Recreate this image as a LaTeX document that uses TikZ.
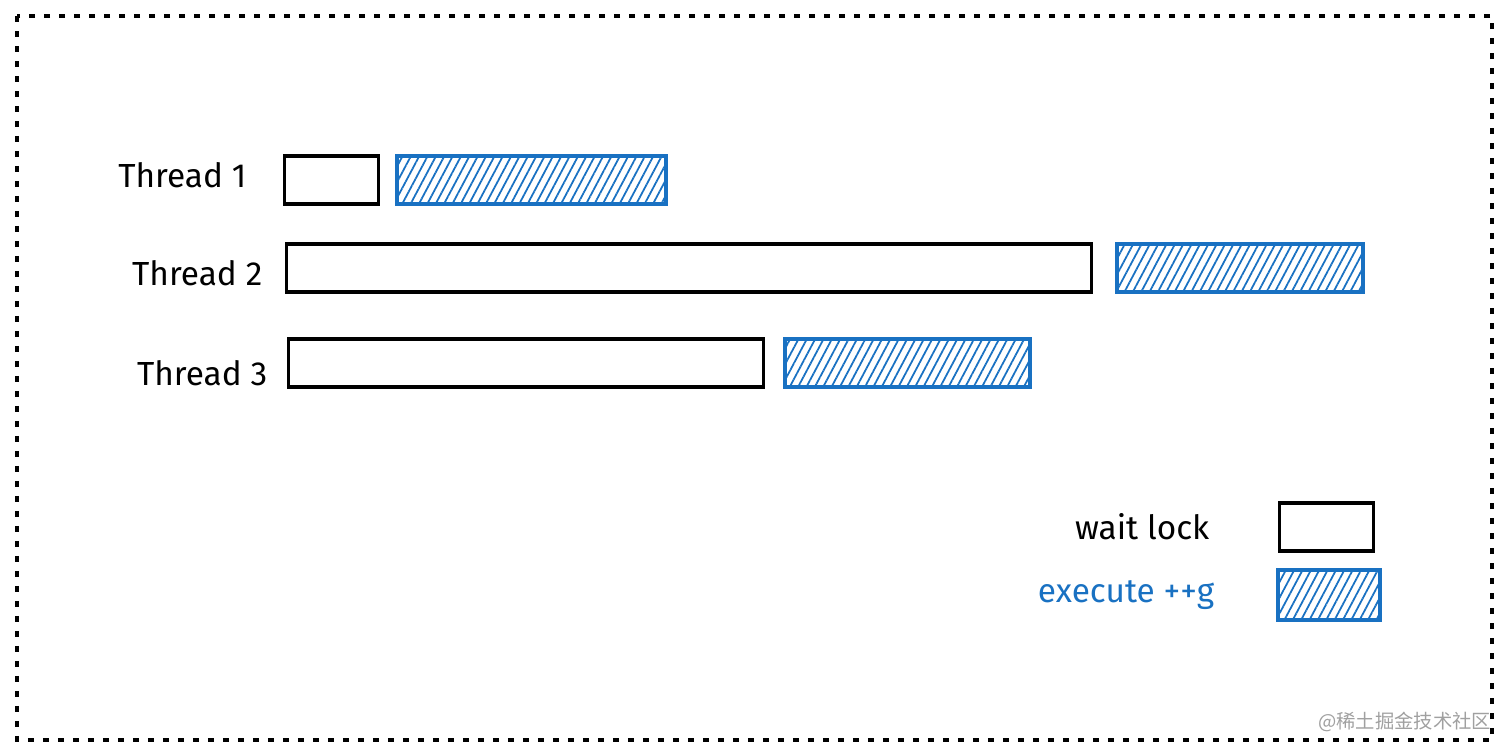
\documentclass[tikz,border=0pt]{standalone}
\usepackage{fontspec}
\setmainfont{Fira Sans}
\newfontfamily\cjkfont{Noto Sans CJK SC}
\usetikzlibrary{
positioning,
patterns.meta
}
\definecolor{LockBlue}{HTML}{1971C2}
\definecolor{MarkGray}{HTML}{A0A0A0}
\tikzset{
waitbar/.style={draw=black, line width=0.9pt, minimum height=4.8mm, inner sep=0pt},
execbar/.style={draw=LockBlue, line width=1.1pt, minimum height=4.8mm, inner sep=0pt,
  pattern={Lines[angle=62,distance=2.1pt,line width=0.5pt]}, pattern color=LockBlue},
threadlabel/.style={font=\fontsize{9.5}{11}\selectfont, inner sep=0pt},
framebox/.style={line width=0.9pt, dash pattern=on 0.06cm off 0.09cm}
}

\begin{document}
\begin{tikzpicture}[node distance=1.8mm and 1.8mm]
\useasboundingbox (0,0) rectangle (15.12,-7.56);
\draw[framebox] (0.17,-0.16) rectangle (14.92,-7.40);

\node[waitbar, minimum width=9.4mm, anchor=west] (wait1) at (2.83,-1.80) {};
\node[execbar, minimum width=26.9mm, right=1.6mm of wait1] (exec1) {};
\node[waitbar, minimum width=80.5mm, anchor=west] (wait2) at (2.85,-2.68) {};
\node[execbar, minimum width=24.6mm, right=2.2mm of wait2] (exec2) {};
\node[waitbar, minimum width=47.5mm, anchor=west] (wait3) at (2.87,-3.63) {};
\node[execbar, minimum width=24.5mm, right=1.8mm of wait3] (exec3) {};

\node[threadlabel, left=3.6mm of wait1, yshift=0.5mm] (thread1) {Thread 1};
\node[threadlabel, left=2.2mm of wait2, yshift=-0.5mm] (thread2) {Thread 2};
\node[threadlabel, left=1.9mm of wait3, yshift=-1mm] (thread3) {Thread 3};

% legend
\node[waitbar, minimum width=9.4mm, anchor=west] (lockkey) at (12.78,-5.27) {};
\node[execbar, minimum width=10.2mm, minimum height=5mm, anchor=west] (execkey) at (12.76,-5.95) {};
\node[threadlabel, left=6.8mm of lockkey] (locktext) {wait lock};
\node[threadlabel, text=LockBlue, left=6.1mm of execkey] (exectext) {execute ++g};

\node[font=\cjkfont\fontsize{5.5}{6}\selectfont, text=MarkGray, anchor=east, inner sep=0pt] (mark) at (14.92,-7.22) {@稀土掘金技术社区};
\end{tikzpicture}
\end{document}
